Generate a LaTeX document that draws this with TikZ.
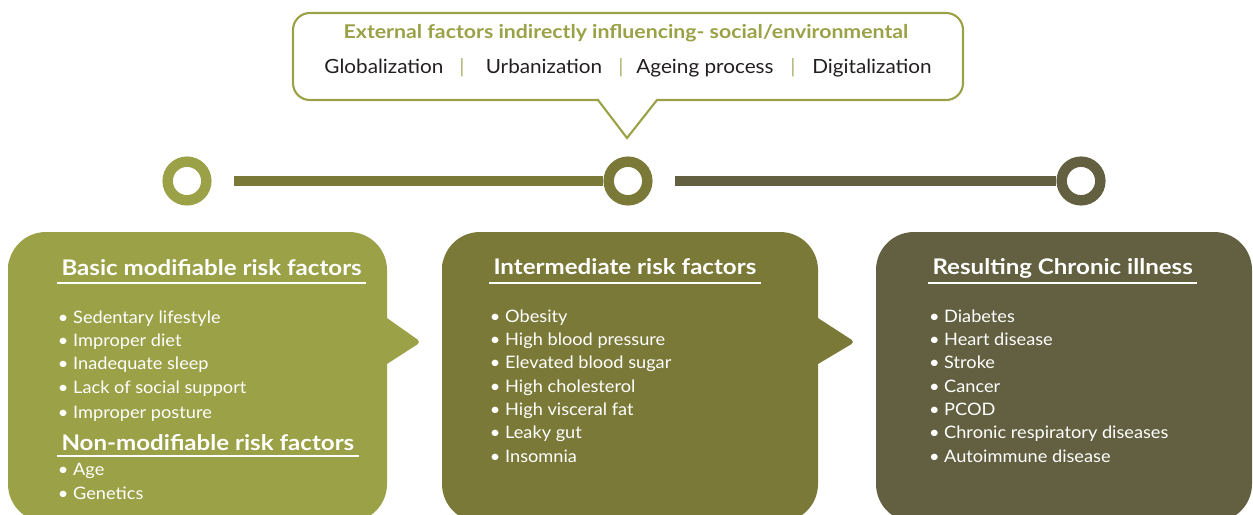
\documentclass[tikz,border=0pt]{standalone}
\usepackage{fontspec}
\setmainfont[FakeStretch=1.06]{Lato}
\newfontfamily\headfont[FakeStretch=1.12]{Lato}
\usepackage{tikz}
\usetikzlibrary{positioning}

\definecolor{oliveA}{HTML}{9AA146}
\definecolor{oliveB}{HTML}{7A7938}
\definecolor{oliveC}{HTML}{626040}
\definecolor{inkdark}{HTML}{231F20}

\begin{document}
\begin{tikzpicture}[x=0.025cm, y=-0.025cm, node distance=25pt and 0.5pt] % 1 unit = 1 px of the layout

		\tikzstyle{head} = [text=white, font=\headfont\bfseries\fontsize{15.3}{18}\selectfont, inner xsep=3pt, inner ysep=0pt, anchor=base west]
		\tikzstyle{items} = [text=white, font=\fontsize{12.2}{16.6}\selectfont, align=left, inner sep=0pt]
		\tikzstyle{rule} = [white, line width=1.4pt]
		\tikzstyle{ring} = [circle, draw, fill=white, line width=7.4pt, minimum size=27.5pt, inner sep=0pt]
		\tikzstyle{bar} = [line width=7.8pt]
		\tikzstyle{word} = [text=inkdark, font=\fontsize{13.9}{16}\selectfont, anchor=base]
		\tikzstyle{sep} = [text=oliveA!80, font=\fontsize{13.9}{16}\selectfont, anchor=base]

		\useasboundingbox (0,0) rectangle (1253,514);

		% Sprechblase oben
		\draw[draw=oliveA, line width=1.5pt, fill=white] (293,60) [rounded corners=12pt] -- (293,13) -- (963,13) -- (963,100) [sharp corners] -- (657,100) -- (627,138) -- (598,100) [rounded corners=12pt] -- (293,100) -- cycle;
		\node[anchor=base, text=oliveA, font=\headfont\bfseries\fontsize{13.5}{16}\selectfont] (ext) at (626,38) {External factors indirectly influencing- social/environmental};
		\node[word] (glob) at (384,73) {Globalization};
		\node[sep] (sepA) at (462,73) {|};
		\node[word] (urban) at (544,73) {Urbanization};
		\node[sep] (sepB) at (621,73) {|};
		\node[word] (ageing) at (705,73) {Ageing process};
		\node[sep] (sepC) at (793,73) {|};
		\node[word] (digital) at (872,73) {Digitalization};

		% Zeitleiste
		\node[ring, draw=oliveA] (c1) at (187,181) {};
		\node[ring, draw=oliveB] (c2) at (628,181) {};
		\node[ring, draw=oliveC] (c3) at (1081,181) {};
		\draw[bar, oliveB] ([xshift=16pt]c1.east) -- (c2.west);
		\draw[bar, oliveC] ([xshift=16pt]c2.east) -- (c3.west);

		% Kaesten
		\fill[oliveA] (8,300) [rounded corners=27pt] -- (8,232) -- (387,232) [sharp corners] -- (387,318) [rounded corners=3pt] -- (421,342) [sharp corners] -- (387,364) [rounded corners=27pt] -- (387,522) -- (8,522) -- cycle;
		\fill[oliveB] (442,300) [rounded corners=27pt] -- (442,232) -- (818,232) [sharp corners] -- (818,318) [rounded corners=3pt] -- (855,342) [sharp corners] -- (818,364) [rounded corners=27pt] -- (818,522) -- (442,522) -- cycle;
		\fill[oliveC, rounded corners=27pt] (876,232) rectangle (1252,522);

		\node[head] (basic) at (57,275) {Basic modifiable risk factors};
		\draw[rule] ([yshift=-6pt]basic.base west) -- ([yshift=-6pt]basic.base east);
		\node[items, below right=of basic.base west] (basiclist) {• Sedentary lifestyle\\• Improper diet\\• Inadequate sleep\\• Lack of social support\\[1.8pt]• Improper posture};

		\node[head] (nonmod) at (57,450) {Non-modifiable risk factors};
		\draw[rule] ([yshift=-4.5pt]nonmod.base west) -- ([yshift=-4.5pt]nonmod.base east);
		\node[items, below right=9pt and 0.5pt of nonmod.base west] (nonmodlist) {• Age\\[1pt]• Genetics};

		\node[head] (inter) at (489,274) {Intermediate risk factors};
		\draw[rule] ([yshift=-6.5pt]inter.base west) -- ([yshift=-6.5pt]inter.base east);
		\node[items, below right=of inter.base west] (interlist) {• Obesity\\• High blood pressure\\• Elevated blood sugar\\• High cholesterol\\• High visceral fat\\• Leaky gut\\• Insomnia};

		\node[head] (result) at (928,274) {Resulting Chronic illness};
		\draw[rule] ([yshift=-6.5pt]result.base west) -- ([yshift=-6.5pt]result.base east);
		\node[items, below right=of result.base west] (resultlist) {• Diabetes\\• Heart disease\\• Stroke\\• Cancer\\• PCOD\\• Chronic respiratory diseases\\• Autoimmune disease};

\end{tikzpicture}
\end{document}
